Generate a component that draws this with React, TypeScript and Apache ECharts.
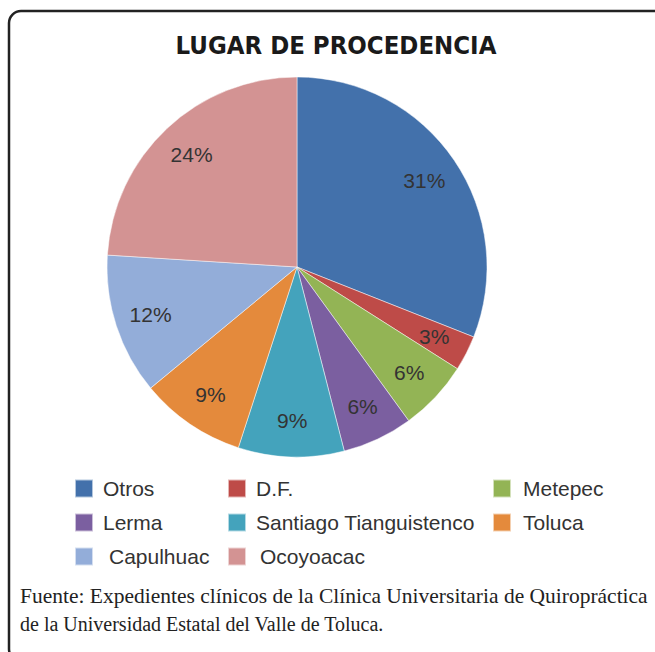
import React, { useEffect, useRef } from "react";
import * as echarts from "echarts";

const categories = ["Otros", "D.F.", "Metepec", "Lerma", "Santiago Tianguistenco", "Toluca", "Capulhuac", "Ocoyoacac"];
const values = [31, 3, 6, 6, 9, 9, 12, 24];
const colors = ["#4371AB", "#BE4B48", "#93B455", "#7B5FA0", "#44A3BC", "#E48A3C", "#93ADD9", "#D39393"];
const titleText = "LUGAR DE PROCEDENCIA";
const sourceLines = [
  "Fuente: Expedientes clínicos de la Clínica Universitaria de Quiropráctica",
  "de la Universidad Estatal del Valle de Toluca.",
];
// legend placements [left, top, text gap]
const legendPos: [number, number, number][] = [
  [74, 478, 5], [227, 478, 5], [492, 478, 7],
  [74, 512, 5], [227, 512, 5], [492, 512, 7],
  [74, 546, 11], [227, 546, 9],
];

export default function App() {
  const ref = useRef<HTMLDivElement>(null);
  useEffect(() => {
    const chart = echarts.init(ref.current!, undefined, { renderer: "svg" });
    const data = categories.map((name, i) => ({ name, value: values[i], itemStyle: { color: colors[i] } }));
    chart.setOption({
      animation: false,
      backgroundColor: "#ffffff",
      legend: categories.map((name, i) => ({
        data: [name],
        left: legendPos[i][0],
        top: legendPos[i][1],
        padding: 0,
        itemWidth: 18,
        itemHeight: 18,
        icon: "rect",
        selectedMode: false,
        textStyle: {
          fontFamily: "Liberation Sans",
          fontSize: 21,
          lineHeight: 21,
          color: "#333",
          padding: [0, 0, 0, legendPos[i][2]],
        },
      })),
      graphic: [
        {
          type: "rect",
          shape: { x: 9, y: 11, width: 720, height: 650, r: 12 },
          style: { fill: "none", stroke: "#222", lineWidth: 2.5 },
          silent: true,
        },
        {
          type: "text",
          x: 336,
          y: 45,
          style: {
            text: titleText,
            fontFamily: "DejaVu Sans Condensed",
            fontWeight: "bold",
            fontSize: 25.5,
            fill: "#1a1a1a",
            textAlign: "center",
            textVerticalAlign: "middle",
          },
        },
        {
          type: "text",
          x: 20,
          y: 596,
          scaleX: 1.075,
          style: {
            text: sourceLines[0],
            fontFamily: "Liberation Serif",
            fontSize: 20,
            fill: "#222",
            textAlign: "left",
            textVerticalAlign: "middle",
          },
        },
        {
          type: "text",
          x: 20,
          y: 624,
          style: {
            text: sourceLines[1],
            fontFamily: "Liberation Serif",
            fontSize: 20,
            fill: "#222",
            textAlign: "left",
            textVerticalAlign: "middle",
          },
        },
      ],
      series: [
        {
          type: "pie",
          center: [297, 267],
          radius: [0, 190],
          startAngle: 90,
          clockwise: true,
          data,
          label: { show: false },
          labelLine: { show: false },
          itemStyle: { borderColor: "rgba(255,255,255,0.6)", borderWidth: 0.8 },
          emphasis: { disabled: true },
        },
        {
          type: "pie",
          center: [297, 267],
          radius: [112, 190],
          startAngle: 90,
          clockwise: true,
          silent: true,
          data: categories.map((name, i) => ({ name, value: values[i] })),
          itemStyle: { color: "rgba(0,0,0,0)", borderWidth: 0 },
          label: {
            show: true,
            position: "inside",
            formatter: "{c}%",
            fontFamily: "Liberation Sans",
            fontSize: 21,
            color: "#333",
          },
          labelLine: { show: false },
          emphasis: { disabled: true },
        },
      ],
    });
    return () => chart.dispose();
  }, []);
  return <div ref={ref} style={{ position: "fixed", left: 0, top: 0, width: 655, height: 652 }} />;
}
